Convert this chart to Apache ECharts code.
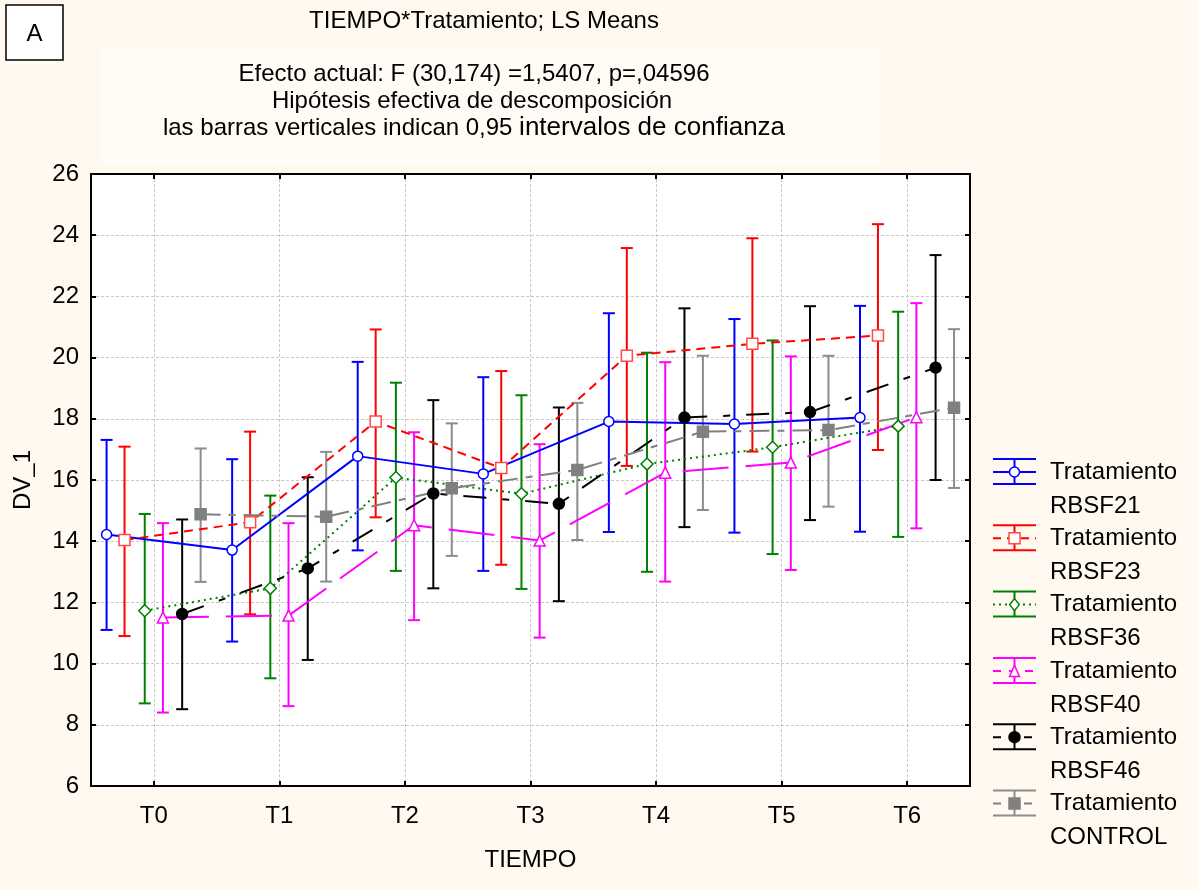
<!DOCTYPE html>
<html><head><meta charset="utf-8">
<script src="https://cdn.jsdelivr.net/npm/echarts@6/dist/echarts.min.js"></script>
<style>html,body{margin:0;padding:0;background:#FFF9EF;}#c{width:1198px;height:890px;}</style>
</head><body><div id="c"></div>
<script>
// ---- data ----
const categories = ['T0','T1','T2','T3','T4','T5','T6'];
const groupNames = ['RBSF21','RBSF23','RBSF36','RBSF40','RBSF46','CONTROL'];
const legendPrefix = 'Tratamiento';
const yTicks = [6,8,10,12,14,16,18,20,22,24,26];

const meanRBSF21 = [14.22,13.71,16.78,16.20,17.91,17.83,18.04];
const lowRBSF21  = [11.10,10.72,13.70,13.03,14.30,14.28,14.31];
const highRBSF21 = [17.31,16.68,19.86,19.36,21.45,21.26,21.69];

const meanRBSF23 = [14.04,14.62,17.91,16.39,20.06,20.45,20.72];
const lowRBSF23  = [10.90,11.61,14.78,13.23,16.46,16.93,16.98];
const highRBSF23 = [17.09,17.58,20.92,19.56,23.58,23.90,24.36];

const meanRBSF36 = [11.73,12.46,16.08,15.55,16.52,17.07,17.76];
const lowRBSF36  = [8.70,9.52,13.03,12.44,13.00,13.58,14.14];
const highRBSF36 = [14.89,15.49,19.18,18.77,20.16,20.56,21.50];

const meanRBSF40 = [11.51,11.57,14.52,14.02,16.24,16.57,18.05];
const lowRBSF40  = [8.40,8.61,11.42,10.85,12.68,13.06,14.42];
const highRBSF40 = [14.59,14.59,17.56,17.17,19.85,20.04,21.78];

const meanRBSF46 = [11.62,13.11,15.56,15.22,18.04,18.22,19.67];
const lowRBSF46  = [8.51,10.12,12.46,12.04,14.46,14.69,16.00];
const highRBSF46 = [14.71,16.09,18.61,18.37,21.61,21.68,23.35];

const meanCONTROL = [14.88,14.80,15.73,16.33,17.58,17.63,18.36];
const lowCONTROL  = [12.67,12.68,13.52,14.04,15.02,15.13,15.74];
const highCONTROL = [17.03,16.92,17.85,18.52,20.06,20.06,20.93];

const titleText = 'TIEMPO*Tratamiento; LS Means';
const subLine1 = 'Efecto actual: F (30,174) =1,5407, p=,04596';
const subLine2 = 'Hipótesis efectiva de descomposición';
const subLine3a = 'las barras verticales indican 0,95 ';
const subLine3b = 'intervalos de confianza';
const xName = 'TIEMPO';
const yName = 'DV_1';
const panelLetter = 'A';

// ---- styles ----
const FONT = '"Liberation Sans", Arial, sans-serif';
const means = [meanRBSF21, meanRBSF23, meanRBSF36, meanRBSF40, meanRBSF46, meanCONTROL];
const lows  = [lowRBSF21, lowRBSF23, lowRBSF36, lowRBSF40, lowRBSF46, lowCONTROL];
const highs = [highRBSF21, highRBSF23, highRBSF36, highRBSF40, highRBSF46, highCONTROL];
const offsets = [-0.376,-0.233,-0.072,0.073,0.226,0.373];
const styles = [
  {color:'#0000FF', err:'#0000FF', dash:'solid', symbol:'circle', fill:'#FFFFFF', border:'#0000FF', size:10},
  {color:'#FF0000', err:'#FF0000', dash:[9,6], symbol:'rect', fill:'#FFFFFF', border:'#FF4A4A', size:11},
  {color:'#008000', err:'#008000', dash:[2,4], symbol:'diamond', fill:'#FFFFFF', border:'#008000', size:12},
  {color:'#FF00FF', err:'#FF00FF', dash:[46,17], symbol:'triangle', fill:'#FFFFFF', border:'#FF00FF', size:11},
  {color:'#000000', err:'#000000', dash:[23,16,7,16], symbol:'circle', fill:'#000000', border:'#000000', size:11},
  {color:'#808080', err:'#8C8C8C', dash:[20,8,7,8], symbol:'rect', fill:'#808080', border:'#808080', size:11}
];

const chart = echarts.init(document.getElementById('c'));
const series = [];
groupNames.forEach((g, s) => {
  const st = styles[s];
  const errData = categories.map((c, i) => [i + offsets[s], lows[s][i], highs[s][i]]);
  series.push({
    name: g + '_err', type: 'custom', z: 2, silent: true,
    data: errData,
    renderItem: (params, api) => {
      const x = api.value(0);
      const p1 = api.coord([x, api.value(1)]);
      const p2 = api.coord([x, api.value(2)]);
      const hw = 6;
      const ls = {stroke: st.err, lineWidth: 2};
      return {type:'group', children:[
        {type:'line', shape:{x1:p1[0], y1:p1[1], x2:p2[0], y2:p2[1]}, style: ls},
        {type:'line', shape:{x1:p1[0]-hw, y1:p1[1], x2:p1[0]+hw, y2:p1[1]}, style: ls},
        {type:'line', shape:{x1:p2[0]-hw, y1:p2[1], x2:p2[0]+hw, y2:p2[1]}, style: ls}
      ]};
    }
  });
  series.push({
    name: g, type: 'line', z: 3,
    data: categories.map((c, i) => [i + offsets[s], means[s][i]]),
    symbol: st.symbol, symbolSize: st.size, showSymbol: true,
    lineStyle: {color: st.color, width: 2, type: st.dash},
    itemStyle: {color: st.fill, borderColor: st.border, borderWidth: 1.5},
    animation: false
  });
});

// legend built as graphics
const graphics = [];
graphics.push({type:'rect', shape:{x:101, y:47, width:779, height:117}, style:{fill:'#FFFCF6'}, z:-1});
graphics.push({type:'rect', shape:{x:6, y:5, width:57, height:55}, style:{fill:'#FFFFFF', stroke:'#000', lineWidth:1.5}});
graphics.push({type:'text', x:34.5, y:34, style:{text:panelLetter, font:'24px '+FONT, fill:'#000', align:'center', verticalAlign:'middle'}});
graphics.push({type:'text', x:484, y:21, style:{text:titleText, font:'24px '+FONT, fill:'#000', align:'center', verticalAlign:'middle'}});
graphics.push({type:'text', x:474, y:74, style:{text:subLine1, font:'24px '+FONT, fill:'#000', align:'center', verticalAlign:'middle'}});
graphics.push({type:'text', x:472, y:101, style:{text:subLine2, font:'24px '+FONT, fill:'#000', align:'center', verticalAlign:'middle'}});
graphics.push({type:'text', x:474, y:128, style:{text:'{a|'+subLine3a+'}{b|'+subLine3b+'}', align:'center', verticalAlign:'middle',
  rich:{a:{fontSize:24, fontFamily:FONT, fill:'#000', color:'#000'}, b:{fontSize:26, fontFamily:FONT, color:'#000'}}}});

groupNames.forEach((g, s) => {
  const st = styles[s];
  const cy = 472 + s * 66.3;
  const x0 = 993, x1 = 1036, xm = (x0 + x1) / 2;
  const errStyle = {stroke: st.err, lineWidth: 2};
  graphics.push({type:'line', shape:{x1:x0, y1:cy-13, x2:x1, y2:cy-13}, style: errStyle});
  graphics.push({type:'line', shape:{x1:x0, y1:cy+12, x2:x1, y2:cy+12}, style: errStyle});
  graphics.push({type:'line', shape:{x1:xm, y1:cy-13, x2:xm, y2:cy+12}, style: errStyle});
  graphics.push({type:'line', shape:{x1:x0, y1:cy, x2:x1, y2:cy}, style:{stroke: st.color, lineWidth: 2, lineDash: st.dash === 'solid' ? null : st.dash.map(v => Math.min(v, 8))}});
  const r = st.size / 2;
  const ms = {fill: st.fill, stroke: st.border, lineWidth: 1.5};
  if (st.symbol === 'circle') graphics.push({type:'circle', shape:{cx:xm, cy:cy, r:r}, style: ms});
  else if (st.symbol === 'rect') graphics.push({type:'rect', shape:{x:xm-r, y:cy-r, width:2*r, height:2*r}, style: ms});
  else if (st.symbol === 'diamond') graphics.push({type:'polygon', shape:{points:[[xm,cy-r],[xm+r*0.8,cy],[xm,cy+r],[xm-r*0.8,cy]]}, style: ms});
  else graphics.push({type:'polygon', shape:{points:[[xm,cy-r],[xm+r*0.9,cy+r],[xm-r*0.9,cy+r]]}, style: ms});
  graphics.push({type:'text', x:1050, y:cy, style:{text:legendPrefix, font:'24px '+FONT, fill:'#000', verticalAlign:'middle'}});
  graphics.push({type:'text', x:1050, y:cy+34, style:{text:g, font:'24px '+FONT, fill:'#000', verticalAlign:'middle'}});
});

const tickVals = categories.map((c, i) => i);
const gridLine = {show:true, lineStyle:{color:'#C8C8C8', width:1, type:[3,2]}};
const axLine = {show:true, onZero:false, lineStyle:{color:'#000', width:2}};
const axTick = {show:true, inside:true, length:5, lineStyle:{color:'#000', width:2}};

chart.setOption({
  backgroundColor: '#FFF9EF',
  animation: false,
  grid: {left:91, right:228, top:174, bottom:104, show:true, backgroundColor:'#FFFFFF', borderColor:'#000', borderWidth:0},
  xAxis: [
    {type:'value', min:-0.5, max:6.5, position:'bottom',
     axisLine: axLine,
     axisTick: Object.assign({}, axTick, {customValues: tickVals}),
     axisLabel: {customValues: tickVals, formatter: v => categories[Math.round(v)], margin: 18, fontSize: 24, fontFamily: FONT, color:'#000'},
     splitLine: gridLine,
     name: xName, nameLocation:'middle', nameGap: 62, nameTextStyle:{fontSize:24, fontFamily:FONT, color:'#000'}},
    {type:'value', min:-0.5, max:6.5, position:'top',
     axisLine: axLine,
     axisTick: Object.assign({}, axTick, {customValues: tickVals}),
     axisLabel: {show:false, customValues: tickVals},
     splitLine: {show:false}}
  ],
  yAxis: [
    {type:'value', min:6, max:26, interval:2, position:'left',
     axisLine: axLine, axisTick: axTick,
     axisLabel: {margin: 12, fontSize: 24, fontFamily: FONT, color:'#000', formatter: v => String(v)},
     splitLine: gridLine,
     name: yName, nameLocation:'middle', nameGap: 56, nameRotate: 90, nameTextStyle:{fontSize:24, fontFamily:FONT, color:'#000'}},
    {type:'value', min:6, max:26, interval:2, position:'right',
     axisLine: axLine, axisTick: axTick, axisLabel:{show:false}, splitLine:{show:false}}
  ],
  series: series,
  graphic: graphics
});
</script></body></html>
